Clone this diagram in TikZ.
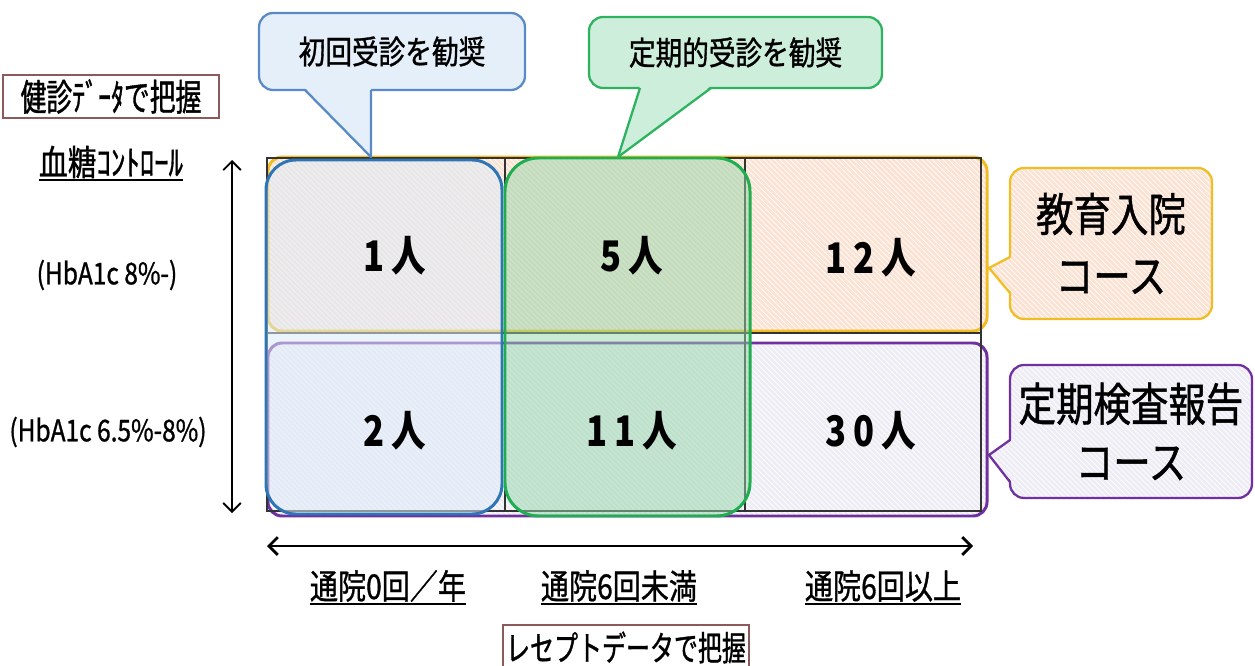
\documentclass[tikz,border=0pt]{standalone}
\usepackage{fontspec}
\setmainfont{Noto Sans CJK JP}[FakeStretch=0.82]
\newfontfamily\jpm[FakeStretch=0.82,FakeBold=1]{Noto Sans CJK JP}
\newfontfamily\jpn[FakeStretch=0.7,FakeBold=1]{Noto Sans CJK JP}
\usetikzlibrary{patterns,arrows.meta}
\definecolor{ylw}{HTML}{F0BE22}
\definecolor{orf}{HTML}{FBE2D2}
\definecolor{pur}{HTML}{7030A0}
\definecolor{purf}{HTML}{EEECF5}
\definecolor{blu}{HTML}{2E75B6}
\definecolor{bluf}{HTML}{DDEBF7}
\definecolor{grn}{HTML}{1EAE50}
\definecolor{grnf}{HTML}{94D6A8}
\definecolor{cbb}{HTML}{5A8AC6}
\definecolor{cbf}{HTML}{E4EFF9}
\definecolor{cgb}{HTML}{2DB35F}
\definecolor{cgf}{HTML}{CDEEDB}
\definecolor{brn}{HTML}{8C5A5A}
\tikzset{
  grp/.style={line width=1.7pt, rounded corners=8pt},
  hatch/.style={preaction={fill=#1}, pattern=north west lines, pattern color=white},
  call/.style={line width=1.3pt, rounded corners=8pt, inner sep=0pt, align=center},
  num/.style={font=\bfseries\fontsize{24}{28}\selectfont, inner sep=0pt},
  lbl/.style={inner sep=0pt},
  ul/.style={line width=1.1pt},
  dblarrow/.style={{Straight Barb[length=5pt,width=10pt]}-{Straight Barb[length=5pt,width=10pt]}}
}
\begin{document}
\begin{tikzpicture}[x=0.02cm,y=-0.02cm]
\useasboundingbox (0,0) rectangle (1255,666);
\clip (0,0) rectangle (1255,666);

% course groups
\draw[grp, draw=ylw, hatch=orf] (268,157) rectangle (987,331);
\draw[grp, draw=pur, hatch=purf] (268,343) rectangle (987,516);

% grid
\draw[line width=0.8pt, black!80] (267,158) rectangle (981,511)
  (505,158) -- (505,511) (745,158) -- (745,511) (267,333) -- (981,333);

% recommendation groups
\draw[line width=1.7pt, draw=blu, fill=bluf, fill opacity=0.55, rounded corners=17pt] (266,160) rectangle (502,514);
\draw[line width=1.7pt, draw=grn, fill=grnf, fill opacity=0.5, rounded corners=19pt] (505,158) rectangle (750,516);

% numbers
\node[num] (n11) at (395,256) {1\hspace{4pt}人};
\node[num] (n12) at (632,256) {5\hspace{4pt}人};
\node[num] (n13) at (871,258) {1\hspace{4pt}2\hspace{4pt}人};
\node[num] (n21) at (395,431) {2\hspace{4pt}人};
\node[num] (n22) at (632,431) {1\hspace{4pt}1\hspace{4pt}人};
\node[num] (n23) at (871,431) {3\hspace{4pt}0\hspace{4pt}人};

% blue callout
\node[call, draw=cbb, fill=cbf, minimum width=5.32cm, minimum height=1.54cm,
  font=\jpm\fontsize{18.5}{22}\selectfont] (cb) at (392,51.5) {初回受診を勧奨};
\coordinate (cbt) at (371,157);
\fill[cbf] (305,88) -- (cbt) -- (371,88) -- cycle;
\draw[cbb, line width=1.3pt, line join=round] (305,90) -- (cbt) -- (371,90);

% green callout
\node[call, draw=cgb, fill=cgf, minimum width=5.86cm, minimum height=1.42cm,
  font=\jpm\fontsize{18.5}{22}\selectfont] (cg) at (735.5,52.5) {定期的受診を勧奨};
\coordinate (cgt) at (618,157);
\fill[cgf] (640,86) -- (cgt) -- (711,86) -- cycle;
\draw[cgb, line width=1.3pt, line join=round] (640,88) -- (cgt) -- (711,88);

% yellow callout
\node[call, draw=ylw, hatch=orf, minimum width=4.04cm, minimum height=3.02cm,
  font=\jpm\fontsize{26}{35}\selectfont] (cy) at (1111,243.5) {教育入院\\コース};
\coordinate (cyt) at (989,268);
\path[hatch=orf] (1012,257) -- (cyt) -- (1012,293) -- cycle;
\draw[ylw, line width=1.3pt, line join=round] (1010,257) -- (cyt) -- (1010,293);

% purple callout
\node[call, draw=pur, hatch=purf, minimum width=4.84cm, minimum height=2.66cm,
  font=\jpm\fontsize{26}{33}\selectfont] (cp) at (1131,431.5) {定期検査報告\\コース};
\coordinate (cpt) at (989,455);
\path[hatch=purf] (1012,440) -- (cpt) -- (1012,482) -- cycle;
\draw[pur, line width=1.3pt, line join=round] (1010,440) -- (cpt) -- (1010,482);

% left labels
\node[draw=brn, line width=0.9pt, minimum width=4.32cm, minimum height=0.86cm, inner sep=0pt,
  font=\jpn\fontsize{21}{24}\selectfont] (kd) at (111,96.5) {健診ﾃﾞｰﾀで把握};
\node[lbl, font=\jpm\fontsize{20}{22}\selectfont] (kt) at (111,162) {血糖ｺﾝﾄﾛｰﾙ};
\draw[ul] ([yshift=-1pt]kt.south west) -- ([yshift=-1pt]kt.south east);
\node[lbl, font=\jpm\fontsize{17}{20}\selectfont] (h1) at (107,275) {(HbA1c 8\%-)};
\node[lbl, font=\jpm\fontsize{17}{20}\selectfont] (h2) at (108,432) {(HbA1c 6.5\%-8\%)};

% axes
\coordinate (vt) at (232,160);
\coordinate (vb) at (232,513);
\draw[dblarrow, line width=1.1pt] (vt) -- (vb);
\coordinate (hl) at (267,546);
\coordinate (hr) at (973,546);
\draw[dblarrow, line width=1.6pt] (hl) -- (hr);

% bottom labels
\node[lbl, font=\jpm\fontsize{19.5}{22}\selectfont] (b1) at (388,586) {通院0回／年};
\draw[ul] ([yshift=-1pt]b1.south west) -- ([yshift=-1pt]b1.south east);
\node[lbl, font=\jpm\fontsize{19.5}{22}\selectfont] (b2) at (619,586) {通院6回未満};
\draw[ul] ([yshift=-1pt]b2.south west) -- ([yshift=-1pt]b2.south east);
\node[lbl, font=\jpm\fontsize{19.5}{22}\selectfont] (b3) at (883,586) {通院6回以上};
\draw[ul] ([yshift=-1pt]b3.south west) -- ([yshift=-1pt]b3.south east);

\node[draw=brn, line width=0.9pt, minimum width=4.92cm, minimum height=0.9cm, inner sep=0pt,
  font=\jpn\fontsize{19.5}{22}\selectfont] (rd) at (626,647.5) {レセプトデータで把握};
\end{tikzpicture}
\end{document}
